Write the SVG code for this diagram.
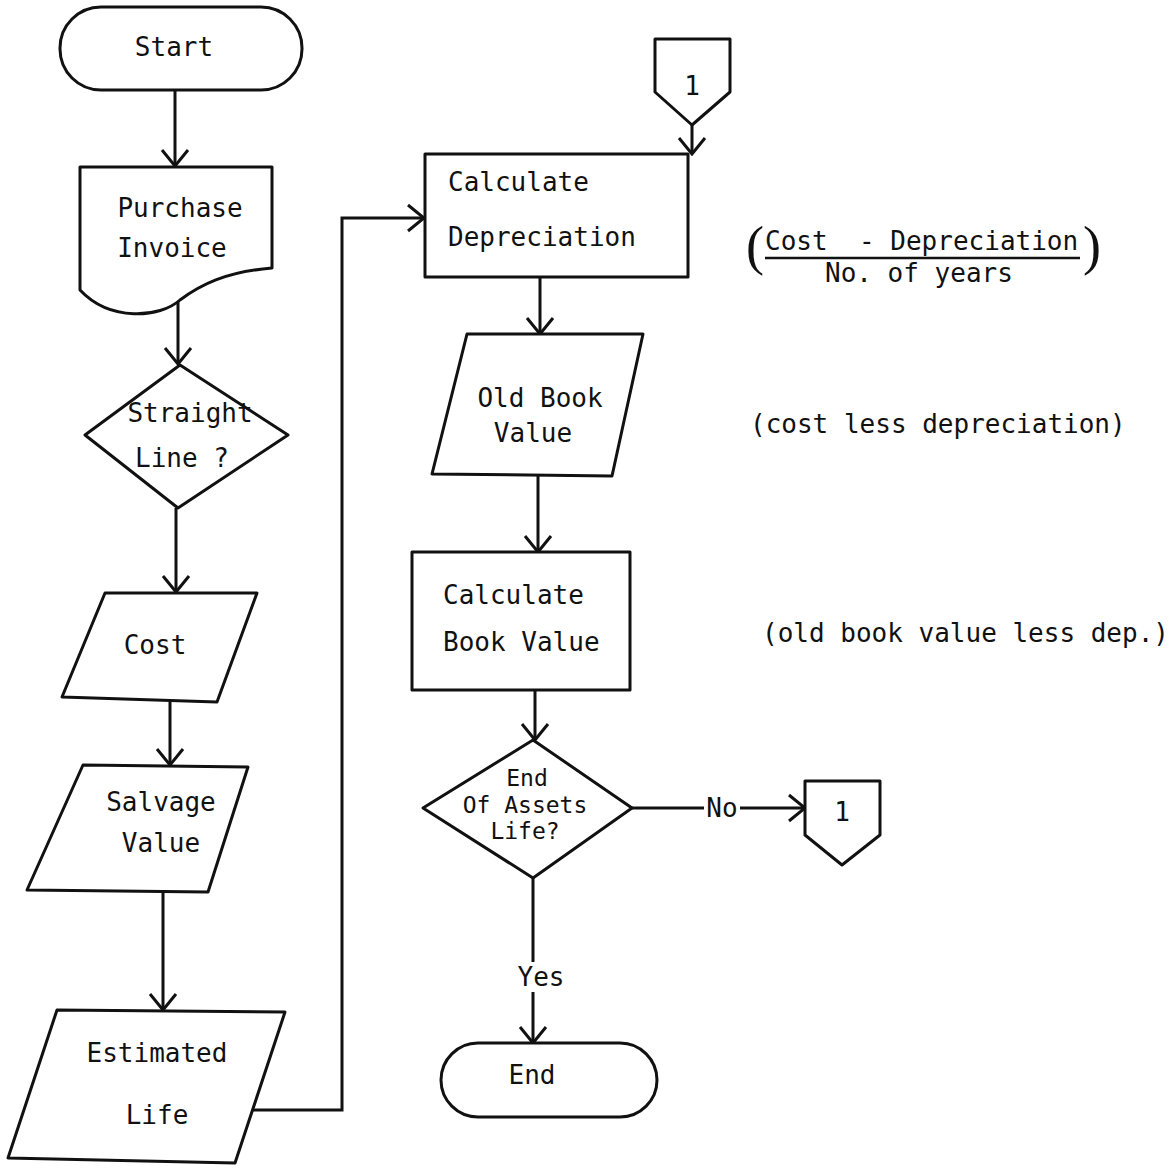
<svg xmlns="http://www.w3.org/2000/svg" width="1175" height="1173" viewBox="0 0 1175 1173">
<style>
.s{fill:#fff;stroke:#111;stroke-width:3;stroke-linejoin:round}
.c{fill:none;stroke:#111;stroke-width:3}
text{font-family:"DejaVu Sans Mono","Liberation Mono",monospace;font-size:26px;fill:#111;dominant-baseline:central}
.m{text-anchor:middle}
.d{font-size:23px}
</style>
<defs>
<marker id="a" markerUnits="userSpaceOnUse" viewBox="0 0 20 30" refX="18" refY="15" markerWidth="20" markerHeight="30" orient="auto">
<path d="M2,2 L18,15 L2,28" fill="none" stroke="#111" stroke-width="3"/>
</marker>
</defs>
<rect width="1175" height="1173" fill="#fff"/>
<g id="connectors">
<path class="c" d="M175,90 V166" marker-end="url(#a)"/>
<path class="c" d="M178,299 V364" marker-end="url(#a)"/>
<path class="c" d="M176,508 V592" marker-end="url(#a)"/>
<path class="c" d="M170,702 V765" marker-end="url(#a)"/>
<path class="c" d="M163,892 V1010" marker-end="url(#a)"/>
<path class="c" d="M252,1110 H342 V218 H424" marker-end="url(#a)"/>
<path class="c" d="M692,125 V154" marker-end="url(#a)"/>
<path class="c" d="M540,277 V334" marker-end="url(#a)"/>
<path class="c" d="M538,476 V552" marker-end="url(#a)"/>
<path class="c" d="M535,690 V740" marker-end="url(#a)"/>
<path class="c" d="M632,808 H704"/>
<path class="c" d="M740,808 H805" marker-end="url(#a)"/>
<text class="m" x="722" y="808">No</text>
<path class="c" d="M533,878 V962"/>
<path class="c" d="M533,992 V1043" marker-end="url(#a)"/>
<text class="m" x="541" y="977">Yes</text>
</g>
<g id="start">
<rect class="s" x="60" y="7" width="242" height="83" rx="41"/>
<text class="m" x="174" y="47">Start</text>
</g>
<g id="purchase">
<path class="s" d="M80,167 H272 V268 C225,272 200,285 180,300 C160,318 110,322 80,290 Z"/>
<text class="m" x="180" y="208">Purchase</text>
<text class="m" x="172" y="248">Invoice</text>
</g>
<g id="straight">
<polygon class="s" points="180,365 288,435 178,508 85,435"/>
<text class="m" x="190" y="413">Straight</text>
<text class="m" x="182" y="458">Line ?</text>
</g>
<g id="cost">
<polygon class="s" points="105,593 257,593 217,702 62,697"/>
<text class="m" x="155" y="645">Cost</text>
</g>
<g id="salvage">
<polygon class="s" points="83,765 248,767 208,892 27,890"/>
<text class="m" x="161" y="802">Salvage</text>
<text class="m" x="161" y="843">Value</text>
</g>
<g id="estimated">
<polygon class="s" points="57,1010 285,1012 235,1163 8,1158"/>
<text class="m" x="157" y="1053">Estimated</text>
<text class="m" x="157" y="1115">Life</text>
</g>
<g id="connector-top">
<path class="s" d="M655,39 H730 V92 L692,125 L655,92 Z"/>
<text class="m" x="692" y="86">1</text>
</g>
<g id="calc-dep">
<rect class="s" x="425" y="154" width="263" height="123"/>
<text x="448" y="182">Calculate</text>
<text x="448" y="237">Depreciation</text>
</g>
<g id="formula">
<text x="746" y="246" style="font-size:54px;font-family:'Liberation Serif',serif">(</text>
<text x="765" y="241">Cost</text>
<text x="859" y="241">- Depreciation</text>
<path d="M765,258 H1080" stroke="#111" stroke-width="2.5"/>
<text x="825" y="273">No. of years</text>
<text x="1083" y="246" style="font-size:54px;font-family:'Liberation Serif',serif">)</text>
</g>
<g id="old-book">
<polygon class="s" points="467,334 643,334 612,476 432,474"/>
<text class="m" x="540" y="398">Old Book</text>
<text class="m" x="533" y="433">Value</text>
</g>
<text x="750" y="424">(cost less depreciation)</text>
<g id="calc-book">
<rect class="s" x="412" y="552" width="218" height="138"/>
<text x="443" y="595">Calculate</text>
<text x="443" y="642">Book Value</text>
</g>
<text x="762" y="633">(old book value less dep.)</text>
<g id="end-life">
<polygon class="s" points="533,740 632,808 533,878 423,808"/>
<text class="m d" x="527" y="778">End</text>
<text class="m d" x="525" y="805">Of Assets</text>
<text class="m d" x="525" y="831">Life?</text>
</g>
<g id="connector-right">
<path class="s" d="M805,781 H880 V835 L842,865 L805,835 Z"/>
<text class="m" x="842" y="812">1</text>
</g>
<g id="end">
<rect class="s" x="441" y="1043" width="216" height="74" rx="37"/>
<text class="m" x="532" y="1075">End</text>
</g>
</svg>
